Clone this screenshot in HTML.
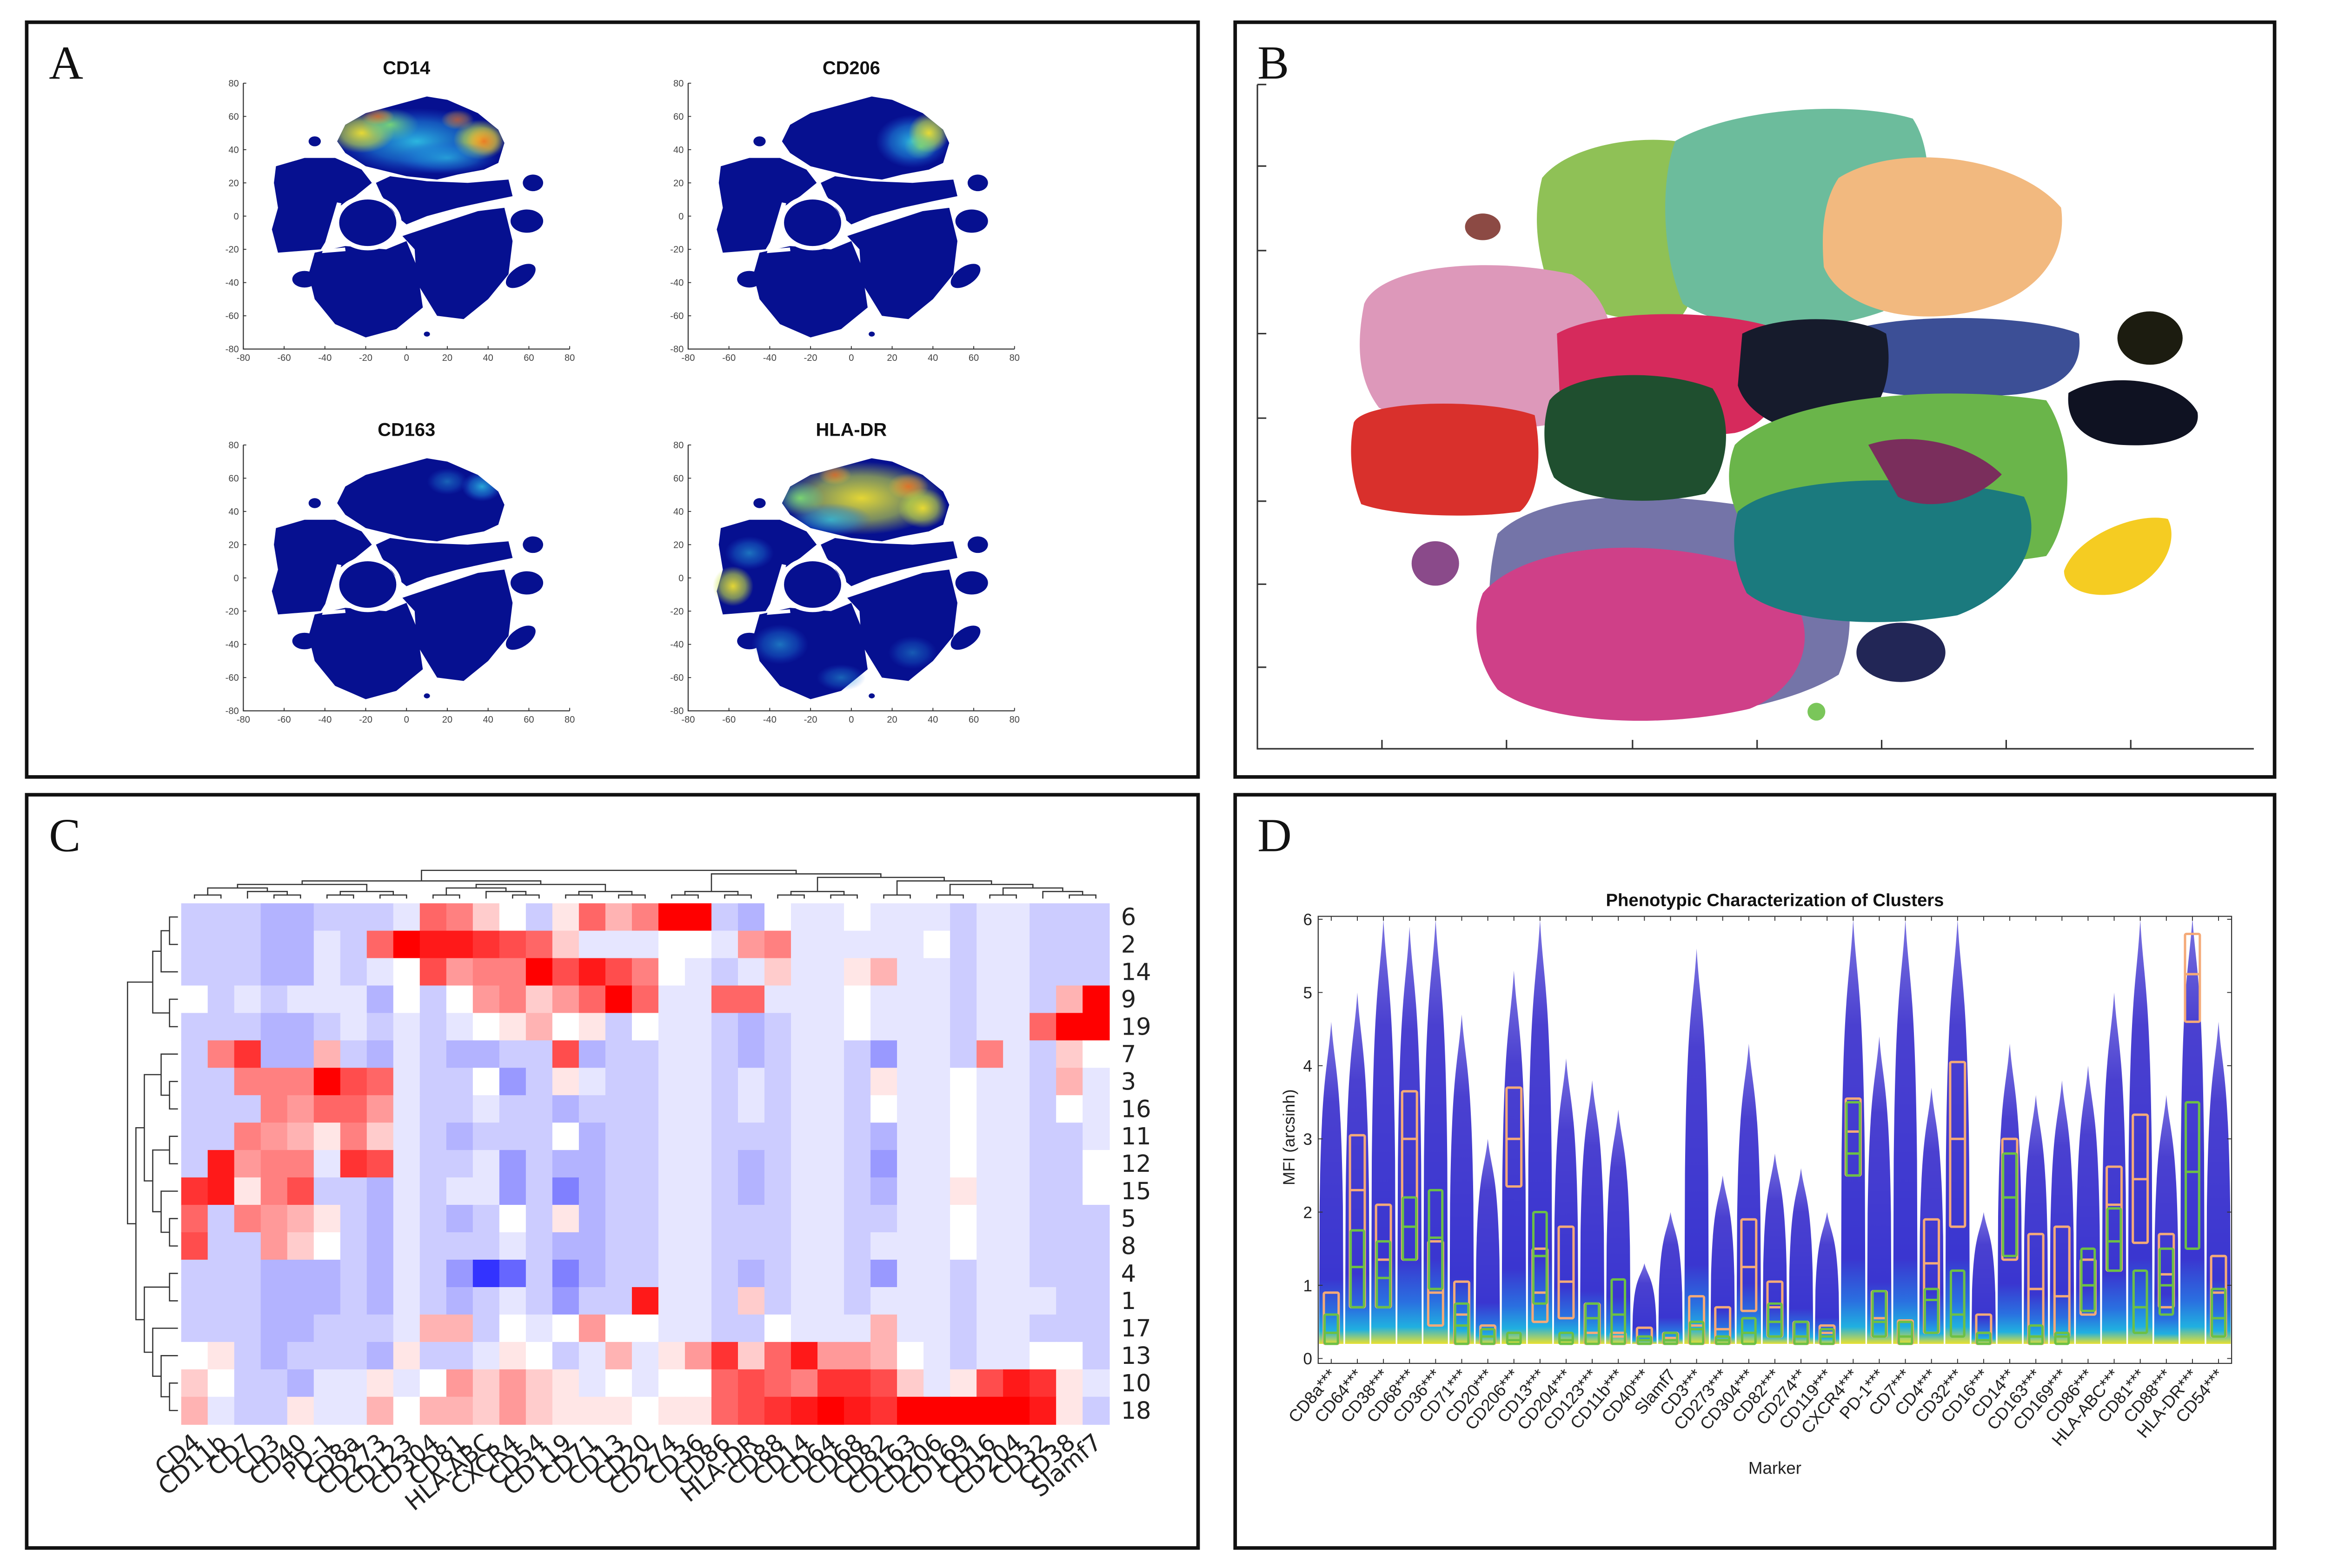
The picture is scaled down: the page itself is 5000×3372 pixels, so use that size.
<!DOCTYPE html>
<html><head><meta charset="utf-8"><title>Figure</title>
<style>html,body{margin:0;padding:0;background:#fff}svg{display:block}</style></head>
<body>
<svg id="fig" xmlns="http://www.w3.org/2000/svg" width="5000" height="3372" viewBox="0 0 1568 1057.5" preserveAspectRatio="none" font-family="'Liberation Sans', sans-serif">
<defs>
<radialGradient id="gY"><stop offset="0" stop-color="#f0e030" stop-opacity="0.95"/><stop offset="0.6" stop-color="#c8e040" stop-opacity="0.6"/><stop offset="1" stop-color="#c8e040" stop-opacity="0"/></radialGradient>
<radialGradient id="gC"><stop offset="0" stop-color="#30c8e8" stop-opacity="0.9"/><stop offset="0.6" stop-color="#2090e0" stop-opacity="0.55"/><stop offset="1" stop-color="#2060e0" stop-opacity="0"/></radialGradient>
<radialGradient id="gO"><stop offset="0" stop-color="#f07020" stop-opacity="0.95"/><stop offset="0.6" stop-color="#f0a030" stop-opacity="0.5"/><stop offset="1" stop-color="#f0c030" stop-opacity="0"/></radialGradient>
<radialGradient id="gG"><stop offset="0" stop-color="#80e070" stop-opacity="0.9"/><stop offset="1" stop-color="#60d0a0" stop-opacity="0"/></radialGradient>
<linearGradient id="vio" x1="0" y1="0" x2="0" y2="1"><stop offset="0" stop-color="#7a72e0"/><stop offset="0.25" stop-color="#4a40d0"/><stop offset="0.8" stop-color="#3a36d0"/><stop offset="0.9" stop-color="#2a70e0"/><stop offset="0.96" stop-color="#20b0e0"/><stop offset="1" stop-color="#e8e030"/></linearGradient>
<clipPath id="topclip"><path d="M-34,45 L-30,55 L-20,62 L-5,67 L10,72 L20,70 L35,62 L45,52 L48,44 L45,32 L38,28 L25,25 L15,22 L0,24 L-10,27 L-20,30 L-30,38 Z"/></clipPath>
<g id="tsne">
<g fill="#061090">
<path d="M-34,45 L-30,55 L-20,62 L-5,67 L10,72 L20,70 L35,62 L45,52 L48,44 L45,32 L38,28 L25,25 L15,22 L0,24 L-10,27 L-20,30 L-30,38 Z"/>
<path d="M-15,20 L-8,24 L10,21 L30,20 L50,22 L52,12 L40,9 L25,5 L10,0 L0,-5 L-5,0 L-12,12 Z"/>
<path d="M-64,30 L-50,35 L-35,35 L-22,28 L-17,20 L-25,12 L-34,5 L-37,-10 L-42,-20 L-63,-22 L-66,-8 L-63,5 L-65,20 Z"/>
<ellipse cx="-19" cy="-4" rx="14" ry="14"/>
<path d="M-45,-22 L-30,-18 L-10,-20 L0,-15 L5,-30 L8,-55 L-5,-68 L-20,-73 L-35,-65 L-45,-50 L-48,-35 Z"/>
<path d="M-2,-12 L15,-5 L35,3 L48,5 L52,-15 L50,-35 L40,-50 L28,-62 L15,-60 L10,-50 L5,-40 L4,-20 Z"/>
<ellipse cx="-45" cy="45" rx="3" ry="3"/>
<ellipse cx="62" cy="20" rx="5" ry="5"/>
<ellipse cx="59" cy="-3" rx="8" ry="7"/>
<ellipse cx="0" cy="0" rx="9" ry="5" transform="translate(56,-36) rotate(45)"/>
<ellipse cx="-50" cy="-38" rx="6" ry="5"/>
<ellipse cx="10" cy="-71" rx="1.5" ry="1.5"/>
</g>
<g fill="none" stroke="#fff" stroke-width="2.2">
<ellipse cx="-19" cy="-4" rx="15.5" ry="15.5"/>
<polyline points="-5,-11 10,-3 30,5 50,9"/>
<polyline points="-33,8 -40,-21 -30,-20"/>
</g>
</g>
</defs>
</svg>
<script>
const NS='http://www.w3.org/2000/svg';
const svg=document.getElementById('fig');
function mk(tag,attrs,parent){const e=document.createElementNS(NS,tag);for(const k in attrs)e.setAttribute(k,attrs[k]);(parent||svg).appendChild(e);return e;}
function txt(s,attrs,parent){const e=mk('text',attrs,parent);e.textContent=s;return e;}

/* ---------- panel frames ---------- */
const panels=[['A',18,15,790,509],['B',833,15,701,509],['C',18,536,790,508],['D',833,536,701,508]];
for(const p of panels){
  const r=mk('rect',{x:p[1],y:p[2],width:p[3],height:p[4],fill:'none',stroke:'#111','stroke-width':2.4});
  
  
  const t=txt(p[0],{x:p[1]+15,y:p[2]+38,'font-family':"'Liberation Serif', serif",'font-size':32,fill:'#111'});
  
  
}

/* ---------- Panel A: tSNE maps ---------- */
const tsneTitles=['CD14','CD206','CD163','HLA-DR'];
const tsneOffX=[0,300,0,300];
const tsneOffY=[0,0,244,244];
const tsneTicks=[-80,-60,-40,-20,0,20,40,60,80];
const overlays={
 'CD14':[['gC',5,45,40,20,1],['gY',-22,50,16,12,1],['gG',-8,55,14,10,1],['gO',-14,60,8,5,0.8],['gY',36,46,13,12,1],['gO',38,45,9,9,0.9],['gO',25,58,8,6,0.7],['gC',20,35,25,10,0.7]],
 'CD206':[['gC',30,45,18,16,1],['gY',38,50,10,12,1],['gG',34,42,8,8,0.8],['gC',-62,-5,5,7,1]],
 'CD163':[['gC',37,55,10,9,0.9],['gC',20,58,10,8,0.5]],
 'HLA-DR':[['gY',5,48,40,22,1],['gC',-10,35,20,10,0.8],['gO',28,55,10,8,0.9],['gO',-8,62,8,6,0.8],['gY',35,42,12,12,1],['gG',-25,48,12,10,1]]
};
const extraHLA=[['gY',-58,-5,10,12,1],['gC',-35,-40,14,12,0.6],['gC',-50,15,12,10,0.6],['gC',-5,-60,12,8,0.5],['gC',30,-45,12,10,0.45]];
tsneTitles.forEach((name,k)=>{
  const ox=tsneOffX[k], oy=tsneOffY[k];
  const L=164.1+ox,R=384.2+ox,T=56.1+oy,B=235.4+oy;
  const g=mk('g',{});
  
  
  const t=txt(name,{x:(L+R)/2,y:50+oy,'text-anchor':'middle','font-weight':'bold','font-size':12.5,fill:'#111'},g);
  
  
  const sx=(R-L)/160, sy=(B-T)/160;
  const plot=mk('g',{transform:`translate(${L+80*sx},${T+80*sy}) scale(${sx},${-sy})`},g);
  
  
  mk('use',{href:'#tsne'},plot);
  const cg=mk('g',{'clip-path':'url(#topclip)'},plot);
  for(const o of overlays[name]) mk('ellipse',{cx:o[1],cy:o[2],rx:o[3],ry:o[4],fill:`url(#${o[0]})`,opacity:o[5]},cg);
  if(name==='HLA-DR') for(const o of extraHLA) mk('ellipse',{cx:o[1],cy:o[2],rx:o[3],ry:o[4],fill:`url(#${o[0]})`,opacity:o[5]},plot);
  const ax=mk('path',{d:`M${L},${T} L${L},${B} L${R},${B}`,fill:'none',stroke:'#333','stroke-width':0.7},g);
  
  
  for(const v of tsneTicks){
    const x=L+(v+80)*sx, y=B-(v+80)*sy;
    mk('line',{x1:x,y1:B,x2:x,y2:B-2,stroke:'#333','stroke-width':0.6},g);
    mk('line',{x1:L,y1:y,x2:L+2,y2:y,stroke:'#333','stroke-width':0.6},g);
    const xl=txt(String(v),{x:x,y:B+8,'text-anchor':'middle','font-size':6.3,fill:'#444'},g);
    
    
    const yl=txt(String(v),{x:L-3,y:y+2.2,'text-anchor':'end','font-size':6.3,fill:'#444'},g);
    
    
  }
});

/* ---------- Panel B: cluster map ---------- */
const bg=mk('g',{});


const bax=mk('path',{d:'M848,57 L848,505 L1520,505',fill:'none',stroke:'#333','stroke-width':1},bg);


for(const y of [57,112,169,225,282,338,394,450]) mk('line',{x1:848,y1:y,x2:854,y2:y,stroke:'#333','stroke-width':1},bg);
for(const x of [932,1016,1101,1185,1269,1353,1437]) mk('line',{x1:x,y1:505,x2:x,y2:499,stroke:'#333','stroke-width':1},bg);
const clusters=[
 ['slate-purple','#7474a8','M1010,360 C1040,330 1120,330 1200,345 C1250,360 1255,420 1240,455 C1200,480 1120,490 1060,480 C1010,470 995,420 1010,360 Z'],
 ['magenta','#cf4088','M1000,400 C1030,365 1120,360 1190,385 C1230,410 1225,460 1180,478 C1120,492 1040,488 1010,465 C995,445 992,420 1000,400 Z'],
 ['light-green','#8fc156','M1040,120 C1060,95 1120,88 1150,100 C1160,140 1150,190 1135,212 C1100,222 1060,210 1042,185 C1035,160 1035,140 1040,120 Z'],
 ['teal-green','#6cbc9c','M1130,95 C1170,72 1250,68 1290,80 C1310,110 1300,180 1270,210 C1220,228 1160,222 1135,205 C1120,170 1120,120 1130,95 Z'],
 ['peach','#f2b97f','M1240,120 C1280,95 1360,105 1390,140 C1395,175 1370,205 1320,212 C1280,218 1240,205 1230,180 C1228,155 1230,135 1240,120 Z'],
 ['pink','#dd98ba','M920,205 C930,180 1000,172 1060,185 C1095,205 1095,255 1070,280 C1030,295 960,290 930,275 C915,255 915,230 920,205 Z'],
 ['brown','#8c4a44','M988,153 a12,9 0 1,0 24,0 a12,9 0 1,0 -24,0 Z'],
 ['crimson','#d62a5c','M1050,225 C1080,208 1160,208 1200,222 C1210,250 1200,285 1170,292 C1120,298 1070,290 1052,270 Z'],
 ['blue','#3c4f96','M1240,225 C1280,210 1370,212 1402,225 C1405,245 1395,262 1360,266 C1310,270 1260,268 1242,255 Z'],
 ['black','#161b2c','M1175,225 C1200,212 1250,212 1272,225 C1278,255 1268,285 1240,292 C1205,295 1178,280 1172,260 Z'],
 ['black-small','#1c1c10','M1428,228 a22,18 0 1,0 44,0 a22,18 0 1,0 -44,0 Z'],
 ['black-right','#0f1222','M1395,265 C1420,250 1470,255 1482,278 C1485,295 1460,302 1430,300 C1405,298 1393,285 1395,265 Z'],
 ['red','#d9302c','M913,285 C920,270 1000,268 1035,280 C1040,305 1038,335 1025,345 C990,350 940,348 918,340 C910,320 910,300 913,285 Z'],
 ['dark-green','#1f4f2f','M1045,270 C1060,250 1120,248 1155,262 C1170,285 1165,318 1150,333 C1110,342 1065,338 1048,322 C1040,305 1040,285 1045,270 Z'],
 ['green','#6ab54a','M1170,300 C1200,270 1300,258 1380,270 C1400,300 1398,350 1380,375 C1320,385 1240,385 1190,370 C1165,350 1162,320 1170,300 Z'],
 ['teal','#1b7a7e','M1172,345 C1200,320 1300,318 1365,335 C1380,365 1360,400 1320,415 C1260,425 1200,418 1178,400 C1168,380 1168,360 1172,345 Z'],
 ['maroon','#7a2e5c','M1260,300 C1290,290 1330,300 1350,320 C1330,340 1300,345 1280,335 Z'],
 ['purple-small','#8a4a8a','M952,380 a16,15 0 1,0 32,0 a16,15 0 1,0 -32,0 Z'],
 ['navy','#222656','M1252,440 a30,20 0 1,0 60,0 a30,20 0 1,0 -60,0 Z'],
 ['yellow','#f5cc22','M1392,385 C1400,362 1440,345 1462,350 C1470,365 1458,392 1430,400 C1410,404 1392,398 1392,385 Z'],
 ['green-dot','#7ac65a','M1219,480 a6,6 0 1,0 12,0 a6,6 0 1,0 -12,0 Z']
];
for(const c of clusters){
  const p=mk('path',{d:c[2],fill:c[1]},bg);
  
  
}

/* ---------- Panel C: heatmap ---------- */
const hmRows=['6','2','14','9','19','7','3','16','11','12','15','5','8','4','1','17','13','10','18'];
const hmCols=['CD4','CD11b','CD7','CD3','CD40','PD-1','CD8a','CD273','CD123','CD304','CD81','HLA-ABC','CXCR4','CD54','CD119','CD71','CD13','CD20','CD274','CD36','CD86','HLA-DR','CD88','CD14','CD64','CD68','CD82','CD163','CD206','CD169','CD16','CD204','CD32','CD38','Slamf7'];
const hmR0=[-2,-2,-2,-3,-3,-2,-2,-2,-1,6,5,2,0,-2,1,6,3,5,10,10,-2,-3,0,-1,-1,0,-1,-1,-1,-2,-1,-1,-2,-2,-2];
const hmR1=[-2,-2,-2,-3,-3,-1,-2,6,10,9,9,8,7,6,2,-1,-1,-1,0,0,-1,4,5,-1,-1,-1,-1,-1,0,-2,-1,-1,-2,-2,-2];
const hmR2=[-2,-2,-2,-3,-3,-1,-2,-1,0,7,4,5,5,10,7,9,7,5,0,-1,-2,-1,2,-1,-1,1,3,-1,-1,-2,-1,-1,-2,-2,-2];
const hmR3=[0,-2,-1,-2,-1,-1,-1,-3,0,-2,0,4,5,2,4,6,10,6,-1,-1,6,6,-1,-1,-1,0,-1,-1,-1,-2,-1,-1,-2,3,10];
const hmR4=[-2,-2,-2,-3,-3,-2,-1,-2,-1,-2,-1,0,1,3,0,1,-2,0,-1,-1,-2,-3,-2,-1,-1,0,-1,-1,-1,-2,-1,-1,6,10,10];
const hmR5=[-2,5,8,-3,-3,3,-2,-3,-1,-2,-3,-3,-2,-2,7,-3,-2,-2,-1,-1,-2,-3,-2,-1,-1,-2,-4,-1,-1,-2,5,-1,-2,2,0];
const hmR6=[-2,-2,5,5,5,10,7,6,-1,-2,-2,0,-4,-2,1,-1,-2,-2,-1,-1,-2,-1,-2,-1,-1,-2,1,-1,-1,0,-1,-1,-2,3,-1];
const hmR7=[-2,-2,-2,5,4,6,6,4,-1,-2,-2,-1,-2,-2,-3,-2,-2,-2,-1,-1,-2,-1,-2,-1,-1,-2,0,-1,-1,0,-1,-1,-2,0,-1];
const hmR8=[-2,-2,5,4,3,1,5,2,-1,-2,-3,-2,-2,-2,0,-3,-2,-2,-1,-1,-2,-2,-2,-1,-1,-2,-3,-1,-1,0,-1,-1,-2,-2,-1];
const hmR9=[-2,9,4,5,5,-1,8,7,-1,-2,-2,-1,-4,-2,-3,-3,-2,-2,-1,-1,-2,-3,-2,-1,-1,-2,-4,-1,-1,0,-1,-1,-2,-2,0];
const hmR10=[8,9,1,5,7,-2,-2,-3,-1,-2,-1,-1,-4,-2,-5,-3,-2,-2,-1,-1,-2,-3,-2,-1,-1,-2,-3,-1,-1,1,-1,-1,-2,-2,0];
const hmR11=[6,-2,5,4,3,1,-2,-3,-1,-2,-3,-2,0,-2,1,-3,-2,-2,-1,-1,-2,-2,-2,-1,-1,-2,-2,-1,-1,0,-1,-1,-2,-2,-2];
const hmR12=[7,-2,-2,4,2,0,-2,-3,-1,-2,-2,-2,-1,-2,-3,-3,-2,-2,-1,-1,-2,-2,-2,-1,-1,-2,-1,-1,-1,0,-1,-1,-2,-2,-2];
const hmR13=[-2,-2,-2,-3,-3,-3,-2,-3,-1,-2,-4,-8,-6,-2,-5,-3,-2,-2,-1,-1,-2,-3,-2,-1,-1,-2,-4,-1,-1,-2,-1,-1,-2,-2,-2];
const hmR14=[-2,-2,-2,-3,-3,-3,-2,-3,-1,-2,-3,-2,-1,-2,-4,-2,-2,9,-1,-1,-2,2,-2,-1,-1,-2,-1,-1,-1,-2,-1,-1,-1,-2,-2];
const hmR15=[-2,-2,-2,-3,-3,-2,-2,-2,-1,3,3,-2,0,-1,0,4,0,0,-1,-1,-2,-2,0,-1,-1,-1,3,-1,-1,-2,-1,-1,-2,-2,-2];
const hmR16=[0,1,-2,-3,-2,-2,-2,-3,1,-2,-2,-1,1,0,-2,-1,3,-1,1,4,8,2,6,9,4,4,3,0,-1,-2,-1,-1,0,0,-2];
const hmR17=[2,0,-2,-2,-3,-1,-1,1,-1,0,4,2,4,2,1,-1,0,-1,0,0,6,7,6,5,8,8,7,2,-1,1,7,9,8,1,-1];
const hmR18=[3,-1,-2,-2,1,-1,-1,3,0,3,3,2,4,2,1,1,1,0,1,1,6,7,8,9,10,9,8,10,10,10,10,10,9,1,-2];
const hmValues=[hmR0,hmR1,hmR2,hmR3,hmR4,hmR5,hmR6,hmR7,hmR8,hmR9,hmR10,hmR11,hmR12,hmR13,hmR14,hmR15,hmR16,hmR17,hmR18];
const colTree=[[[[[0,1],[2,[3,4]]],[[5,6],[7,8]]],[[[9,10],[11,[12,13]]],[[14,15],[16,17]]]],[[[18,19],[20,21]],[[[22,23],[24,25]],[[26,27],[[28,29],[[30,31],[32,[33,34]]]]]]]];
const rowTree=[[[[0,1],2],[3,4]],[[[5,[6,7]],[[8,9],[10,[11,12]]]],[[13,14],[15,[16,[17,18]]]]]];

(function(){
  const x0=122.2,y0=609.2,cw=17.88,rh=18.49;
  const hx=i=>x0+i*cw, hy=j=>y0+j*rh;
  const g=mk('g',{});
  
  
  function col(v){const c=Math.round(255*(1-Math.min(Math.abs(v),10)/10));return v<0?`rgb(${c},${c},255)`:`rgb(255,${c},${c})`;}
  hmValues.forEach((row,j)=>row.forEach((v,i)=>{
    const r=mk('rect',{x:hx(i),y:hy(j),width:cw+0.4,height:rh+0.4,fill:col(v)},g);
    
    
  }));
  hmRows.forEach((s,j)=>{
    const t=txt(s,{x:hx(hmCols.length)+8,y:hy(j)+rh/2+5.5,'font-size':16,fill:'#222','font-family':"'DejaVu Sans', sans-serif"},g);
    
    
  });
  hmCols.forEach((s,i)=>{
    const cx=hx(i)+cw/2+5, cy=hy(hmRows.length)+14;
    const t=txt(s,{x:cx,y:cy,'text-anchor':'end','font-size':16,fill:'#222','font-family':"'DejaVu Sans', sans-serif",transform:`rotate(-40 ${cx} ${cy})`},g);
    
    
  });
  function depth(n){return Array.isArray(n)?1+Math.max(depth(n[0]),depth(n[1])):0;}
  const cg=mk('g',{stroke:'#333','stroke-width':0.8,fill:'none'});
  
  
  const cmax=depth(colTree), cu=19/cmax, cbase=606;
  function drawC(n){ if(!Array.isArray(n)) return [hx(n)+cw/2,cbase];
    const a=drawC(n[0]), b=drawC(n[1]); const y=cbase-depth(n)*cu;
    mk('path',{d:`M${a[0]},${a[1]} L${a[0]},${y} L${b[0]},${y} L${b[0]},${b[1]}`},cg); return [(a[0]+b[0])/2,y];}
  drawC(colTree);
  const rg=mk('g',{stroke:'#333','stroke-width':0.8,fill:'none'});
  
  
  const rmax=depth(rowTree), ru=34/rmax, rbase=120;
  function drawR(n){ if(!Array.isArray(n)) return [rbase,hy(n)+rh/2];
    const a=drawR(n[0]), b=drawR(n[1]); const x=rbase-depth(n)*ru;
    mk('path',{d:`M${a[0]},${a[1]} L${x},${a[1]} L${x},${b[1]} L${b[0]},${b[1]}`},rg); return [x,(a[1]+b[1])/2];}
  drawR(rowTree);
})();

/* ---------- Panel D: violin + box chart ---------- */
const dMarkers=['CD8a***','CD64***','CD38***','CD68***','CD36***','CD71***','CD20***','CD206***','CD13***','CD204***','CD123***','CD11b***','CD40***','Slamf7','CD3***','CD273***','CD304***','CD82***','CD274**','CD119***','CXCR4***','PD-1***','CD7***','CD4***','CD32***','CD16***','CD14**','CD163***','CD169***','CD86***','HLA-ABC***','CD81***','CD88***','HLA-DR***','CD54***'];
const dMax=[4.6,5.0,6.0,5.9,6.0,4.7,3.0,5.3,6.0,4.1,3.8,3.4,1.3,2.0,5.6,2.5,4.3,2.8,2.6,2.0,6.0,4.4,6.0,3.7,6.0,2.0,4.3,3.6,3.8,4.0,5.0,6.0,3.6,6.2,4.6];
const dOrangeLo=[0.2,0.7,0.7,1.35,0.45,0.2,0.2,2.35,0.5,0.55,0.2,0.2,0.2,0.2,0.2,0.2,0.65,0.3,0.2,0.2,2.5,0.3,0.2,0.35,1.8,0.2,1.35,0.2,0.3,0.6,1.2,1.58,0.7,4.6,0.3];
const dOrangeHi=[0.9,3.05,2.1,3.65,1.6,1.05,0.45,3.7,1.5,1.8,0.75,0.35,0.42,0.35,0.85,0.7,1.9,1.05,0.5,0.45,3.55,0.92,0.52,1.9,4.05,0.6,3.0,1.7,1.8,1.35,2.62,3.33,1.7,5.8,1.4];
const dOrangeMed=[0.6,2.3,1.35,3.0,0.9,0.6,0.3,3.0,0.9,1.05,0.35,0.3,0.25,0.28,0.45,0.4,1.25,0.7,0.3,0.35,3.1,0.55,0.3,1.3,3.0,0.35,2.2,0.95,0.85,1.0,2.1,2.45,1.15,5.25,0.9];
const dGreenLo=[0.2,0.7,0.7,1.35,0.95,0.2,0.2,0.2,0.75,0.2,0.2,0.2,0.2,0.2,0.2,0.2,0.2,0.3,0.2,0.2,2.5,0.3,0.2,0.35,0.3,0.2,1.4,0.2,0.2,0.65,1.2,0.35,0.6,1.5,0.3];
const dGreenHi=[0.6,1.75,1.6,2.2,2.3,0.75,0.4,0.35,2.0,0.35,0.75,1.08,0.3,0.35,0.5,0.3,0.55,0.75,0.5,0.4,3.5,0.92,0.5,0.95,1.2,0.35,2.8,0.45,0.35,1.5,2.05,1.2,1.5,3.5,0.95];
const dGreenMed=[0.35,1.25,1.1,1.8,1.65,0.45,0.3,0.25,1.4,0.25,0.55,0.6,0.25,0.25,0.4,0.25,0.35,0.5,0.3,0.3,2.8,0.5,0.3,0.8,0.6,0.25,2.2,0.3,0.3,1.0,1.6,0.7,1.0,2.55,0.55];
const dYTicks=[0,1,2,3,4,5,6];

(function(){
  const L=889,R=1505,T=618,B=919.5;
  const y=v=>916.2-v*49.37;
  const w=(R-L)/dMarkers.length;
  const cx=i=>L+(i+0.5)*w;
  const g=mk('g',{});
  
  
  const title=txt('Phenotypic Characterization of Clusters',{x:(L+R)/2,y:611,'text-anchor':'middle','font-weight':'bold','font-size':12,fill:'#111'},g);
  
  
  const frame=mk('rect',{x:L,y:T,width:R-L,height:B-T,fill:'#fff',stroke:'#333','stroke-width':0.7},g);
  
  
  const vg=mk('g',{},g);
  dMarkers.forEach((m,i)=>{
    const c=cx(i), hw=w*0.47, y0=y(0.2), yt=Math.max(y(dMax[i]),T+1), ym=y(dMax[i]*0.45), yh=y(dMax[i]*0.85);
    const p=mk('path',{d:`M${c-hw},${y0} L${c-hw*0.95},${ym} C${c-hw*0.8},${yh} ${c-hw*0.3},${yh} ${c},${yt} C${c+hw*0.3},${yh} ${c+hw*0.8},${yh} ${c+hw*0.95},${ym} L${c+hw},${y0} Z`,fill:'url(#vio)'},vg);
    
    
  });
  dMarkers.forEach((m,i)=>{
    const c=cx(i);
    const ob=mk('rect',{x:c-5,y:y(dOrangeHi[i]),width:10,height:y(dOrangeLo[i])-y(dOrangeHi[i]),fill:'none',stroke:'#f5aa78','stroke-width':1.6,rx:1},g);
    
    
    const om=mk('line',{x1:c-5,x2:c+5,y1:y(dOrangeMed[i]),y2:y(dOrangeMed[i]),stroke:'#f5aa78','stroke-width':1.6},g);
    
    
    const gb=mk('rect',{x:c-4.5,y:y(dGreenHi[i]),width:9,height:y(dGreenLo[i])-y(dGreenHi[i]),fill:'none',stroke:'#6cc045','stroke-width':1.6,rx:1},g);
    
    
    const gm=mk('line',{x1:c-4.5,x2:c+4.5,y1:y(dGreenMed[i]),y2:y(dGreenMed[i]),stroke:'#6cc045','stroke-width':1.6},g);
    
    
    mk('line',{x1:c,x2:c,y1:B,y2:B-3,stroke:'#333','stroke-width':0.6},g);
    mk('line',{x1:c,x2:c,y1:T,y2:T+3,stroke:'#333','stroke-width':0.6},g);
    const lx=c+4, ly=B+8;
    const t=txt(m,{x:lx,y:ly,'text-anchor':'end','font-size':11.5,fill:'#222',transform:`rotate(-50 ${lx} ${ly})`},g);
    
    
  });
  dYTicks.forEach(v=>{
    mk('line',{x1:L,x2:L+3,y1:y(v),y2:y(v),stroke:'#333','stroke-width':0.6},g);
    mk('line',{x1:R,x2:R-3,y1:y(v),y2:y(v),stroke:'#333','stroke-width':0.6},g);
    const t=txt(String(v),{x:L-4,y:y(v)+4,'text-anchor':'end','font-size':11,fill:'#222'},g);
    
    
  });
  const yl=txt('MFI (arcsinh)',{x:873,y:767,'text-anchor':'middle','font-size':11,fill:'#222',transform:'rotate(-90 873 767)'},g);
  
  
  const xl=txt('Marker',{x:(L+R)/2,y:994,'text-anchor':'middle','font-size':11.5,fill:'#222'},g);
  
  
})();
</script>
</body></html>
